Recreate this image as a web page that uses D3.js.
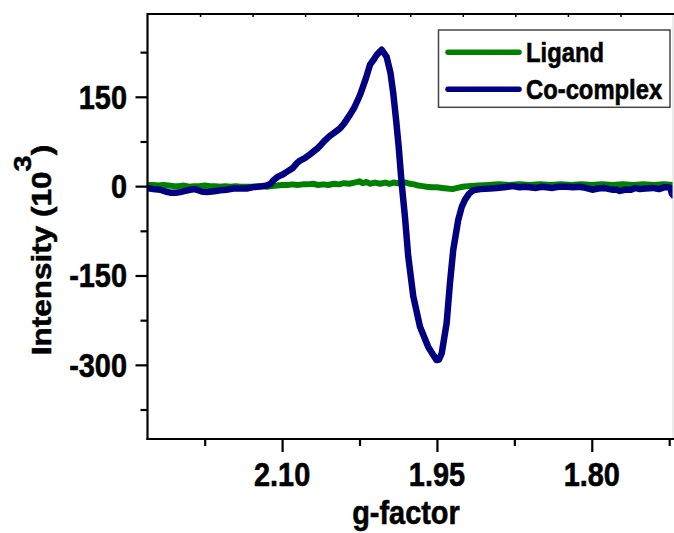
<!DOCTYPE html>
<html>
<head>
<meta charset="utf-8">
<script src="https://cdn.jsdelivr.net/npm/d3@7/dist/d3.min.js"></script>
<style>
  html, body { margin: 0; padding: 0; background: #fff; }
  svg { display: block; }
  text { font-family: "Liberation Sans", Arial, sans-serif; font-weight: bold; fill: #000; stroke: #000; stroke-width: 0.6px; }
</style>
</head>
<body>
<svg id="chart" width="674" height="533"></svg>
<script>
// ---------------- data ----------------
const seriesNames = ["Ligand", "Co-complex"];
const seriesColors = ["#008000", "#000080"];

const ligandG = [2.2304,2.2250,2.2200,2.2150,2.2100,2.2050,2.2000,2.1950,2.1900,2.1850,2.1800,2.1750,2.1700,2.1650,2.1600,2.1550,2.1500,2.1450,2.1400,2.1350,2.1300,2.1250,2.1200,2.1150,2.1100,2.1050,2.1000,2.0950,2.0900,2.0850,2.0800,2.0750,2.0700,2.0650,2.0600,2.0550,2.0500,2.0450,2.0400,2.0350,2.0300,2.0250,2.0220,2.0180,2.0150,2.0100,2.0050,2.0000,1.9960,1.9920,1.9880,1.9840,1.9800,1.9760,1.9720,1.9680,1.9640,1.9600,1.9550,1.9500,1.9450,1.9400,1.9350,1.9300,1.9250,1.9200,1.9100,1.9000,1.8900,1.8800,1.8700,1.8600,1.8500,1.8400,1.8300,1.8200,1.8100,1.8000,1.7900,1.7800,1.7700,1.7600,1.7500,1.7400,1.7300,1.7213];
const ligandI = [2,2,1,2,1,0,0,1,-1,0,0,1,0,0,-1,0,-1,0,-1,-1,-1,-1,0,-1,0,1,2,2,3,2,3,3,4,2,3,2,4,3,5,4,6,8,5,7,4,6,4,6,4,6,5,6,6,4,3,1,0,-1,-2,-2,-3,-4,-5,-3,-1,0,1,2,3,2,3,2,3,2,3,2,3,2,3,2,3,2,3,2,3,2];

const complexG = [2.2304,2.2250,2.2181,2.2130,2.2084,2.2030,2.1987,2.1940,2.1890,2.1850,2.1826,2.1780,2.1729,2.1680,2.1640,2.1600,2.1540,2.1471,2.1410,2.1342,2.1290,2.1245,2.1190,2.1148,2.1110,2.1084,2.1040,2.0990,2.0955,2.0900,2.0860,2.0826,2.0780,2.0740,2.0697,2.0660,2.0620,2.0584,2.0540,2.0500,2.0439,2.0400,2.0342,2.0300,2.0245,2.0190,2.0148,2.0110,2.0084,2.0035,1.9987,1.9950,1.9923,1.9895,1.9870,1.9842,1.9810,1.9778,1.9729,1.9664,1.9584,1.9530,1.9503,1.9480,1.9454,1.9406,1.9374,1.9342,1.9294,1.9260,1.9229,1.9190,1.9149,1.9080,1.8987,1.8920,1.8850,1.8762,1.8700,1.8650,1.8600,1.8540,1.8480,1.8438,1.8380,1.8320,1.8245,1.8180,1.8116,1.8060,1.7987,1.7940,1.7880,1.7830,1.7794,1.7760,1.7729,1.7680,1.7620,1.7580,1.7535,1.7480,1.7407,1.7350,1.7300,1.7262,1.7240,1.7225,1.7213];
const complexI = [-3,-5,-6,-9,-11,-11,-10,-8,-6,-5,-6,-9,-10,-9,-8,-7,-6,-4,-4,-4,-2,-1,0,1,4,10,16,20,24,30,38,43,47,52,58,63,70,77,84,89,97,105,120,132,153,180,204,213,220,229,217,190,156,110,65,5,-51,-118,-185,-236,-270,-285,-292,-291,-281,-230,-163,-107,-57,-35,-23,-13,-7,-5,-4,-3,-2,0,-2,-1,-2,-3,-1,-2,-3,-1,-1,-2,-1,-3,-6,-4,-3,-5,-6,-6,-8,-6,-6,-3,-5,-4,-3,-5,-2,-2,-3,-12,-15];

const xTicksMajor = [2.10, 1.95, 1.80];
const xTicksMinor = [2.175, 2.025, 1.875, 1.725];
const xTickLabels = ["2.10", "1.95", "1.80"];
const yTicksMajor = [150, 0, -150, -300];
const yTicksMinor = [225, 75, -75, -225, -375];
const yTickLabels = ["150", "0", "-150", "-300"];
const topTicks = [1,2,3,4,5,6,7,8,9];

// ---------------- layout ----------------
const L = 147.5, R = 673, T = 14, B = 439;
const SX = 0.85; // horizontal text compression seen in the reference

const svg = d3.select("#chart");
const x = d3.scaleLinear().domain([2.2304, 1.7213]).range([L, R]);
const y = d3.scaleLinear().domain([289, -424.5]).range([T, B]);
const xTop = d3.scaleLinear().domain([0, 10]).range([L, R]);

// clip
svg.append("defs").append("clipPath").attr("id", "clip")
  .append("rect").attr("x", L).attr("y", T).attr("width", R - L).attr("height", B - T);

// curves
const line = d3.line().x(d => x(d[0])).y(d => y(d[1])).curve(d3.curveLinear);
const ligand = ligandG.map((g, i) => [g, ligandI[i]]);
const complex = complexG.map((g, i) => [g, complexI[i]]);
const plot = svg.append("g").attr("clip-path", "url(#clip)");
plot.append("path").datum(ligand).attr("d", line)
  .attr("fill", "none").attr("stroke", seriesColors[0]).attr("stroke-width", 6)
  .attr("stroke-linejoin", "round").attr("stroke-linecap", "round");
plot.append("path").datum(complex).attr("d", line)
  .attr("fill", "none").attr("stroke", seriesColors[1]).attr("stroke-width", 6.5)
  .attr("stroke-linejoin", "round").attr("stroke-linecap", "round");

// frame
svg.append("line").attr("x1", R).attr("x2", R).attr("y1", T).attr("y2", B)
  .attr("stroke", "#d8d8d8").attr("stroke-width", 1);
svg.append("line").attr("x1", L).attr("x2", R + 1).attr("y1", T).attr("y2", T)
  .attr("stroke", "#000").attr("stroke-width", 2);

// top axis tiny ticks
const topAxis = d3.axisTop(xTop).tickValues(topTicks).tickSize(-3).tickFormat("");
svg.append("g").attr("transform", `translate(0,${T})`).call(topAxis)
  .call(g => g.select(".domain").remove())
  .selectAll("line").attr("stroke", "#000").attr("stroke-width", 1.5);

// bottom axis
const xAxisMajor = d3.axisBottom(x).tickValues(xTicksMajor).tickSize(13).tickFormat("");
const xAxisMinor = d3.axisBottom(x).tickValues(xTicksMinor).tickSize(7).tickFormat("");
const gx = svg.append("g").attr("transform", `translate(0,${B})`);
gx.call(xAxisMajor);
gx.append("g").call(xAxisMinor).select(".domain").remove();
gx.select(".domain").attr("d", `M${L - 1},0H${R + 1}`).attr("stroke", "#000").attr("stroke-width", 2.2);
gx.selectAll(".tick line").attr("stroke", "#000").attr("stroke-width", 2.2);

xTicksMajor.forEach((v, i) => {
  svg.append("g").attr("transform", `translate(${x(v)},486) scale(${SX},1)`)
    .append("text").attr("text-anchor", "middle").style("font-size", "34px")
    .text(xTickLabels[i]);
});

// left axis
const yAxisMajor = d3.axisLeft(y).tickValues(yTicksMajor).tickSize(12).tickFormat("");
const yAxisMinor = d3.axisLeft(y).tickValues(yTicksMinor).tickSize(7).tickFormat("");
const gy = svg.append("g").attr("transform", `translate(${L},0)`);
gy.call(yAxisMajor);
gy.append("g").call(yAxisMinor).select(".domain").remove();
gy.select(".domain").attr("d", `M0,${T - 1}V${B + 1}`).attr("stroke", "#000").attr("stroke-width", 2.2);
gy.selectAll(".tick line").attr("stroke", "#000").attr("stroke-width", 2.2);

yTicksMajor.forEach((v, i) => {
  svg.append("g").attr("transform", `translate(127,${y(v) + 12}) scale(${SX},1)`)
    .append("text").attr("text-anchor", "end").style("font-size", "34px")
    .text(yTickLabels[i]);
});

// axis titles
svg.append("g").attr("transform", `translate(406,524) scale(${SX},1)`)
  .append("text").attr("text-anchor", "middle").style("font-size", "34px")
  .text("g-factor");

const yt = svg.append("g").attr("transform", `translate(51,250) scale(${SX},1) rotate(-90)`)
  .append("text").attr("text-anchor", "middle").style("font-size", "31.5px");
yt.append("tspan").text("Intensity (10");
yt.append("tspan").attr("dy", -23).style("font-size", "29px").text("3");
yt.append("tspan").attr("dy", 23).text(")");

// legend
const lg = svg.append("g");
lg.append("rect").attr("x", 438.5).attr("y", 30).attr("width", 231.5).attr("height", 77.3)
  .attr("fill", "#fff").attr("stroke", "#444").attr("stroke-width", 1.5);
const legY = [52.3, 89.3];
seriesNames.forEach((n, i) => {
  lg.append("line").attr("x1", 448).attr("x2", 519).attr("y1", legY[i]).attr("y2", legY[i])
    .attr("stroke", seriesColors[i]).attr("stroke-width", 5.5).attr("stroke-linecap", "round");
  lg.append("g").attr("transform", `translate(526,${legY[i] + 9.5}) scale(${SX},1)`)
    .append("text").style("font-size", "28px").text(n);
});
</script>
</body>
</html>
